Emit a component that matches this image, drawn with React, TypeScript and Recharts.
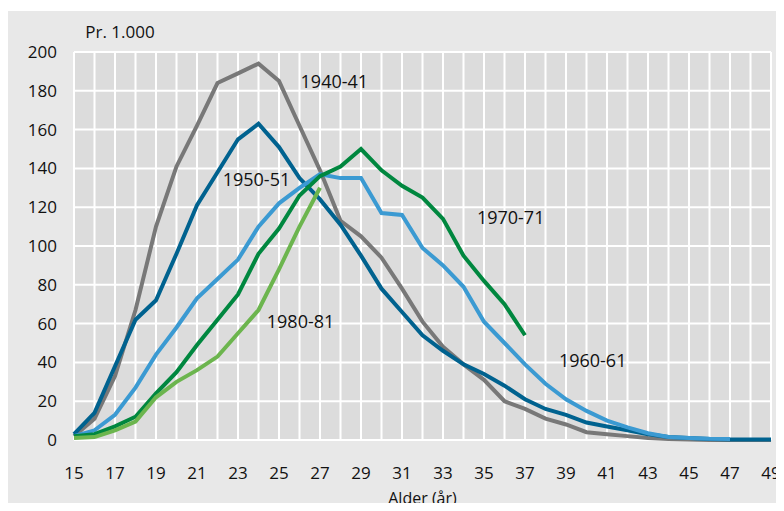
import React from "react";
import { CartesianGrid, Line, LineChart, ReferenceDot, XAxis, YAxis } from "recharts";

// alder 15-49
const ages = Array.from({ length: 35 }, (_, i) => 15 + i);

const y1940 = [2, 11, 33, 67, 110, 141, 162, 184, 189, 194, 185, 162, 139, 113, 105, 94, 78, 61, 48, 39, 31, 20, 16, 11, 8, 4, 3, 2, 1, 0.5, 0.3, 0, 0, 0, 0];
const y1950 = [3, 14, 38, 62, 72, 96, 121, 138, 155, 163, 151, 135, 124, 111, 95, 78, 66, 54, 46, 39, 34, 28, 21, 16, 13, 9, 7, 5, 3, 1.5, 1, 0.5, 0.3, 0.2, 0.2];
const y1960 = [2, 5, 13, 27, 44, 58, 73, 83, 93, 110, 122, 130, 137, 135, 135, 117, 116, 99, 90, 79, 61, 50, 39, 29, 21, 15, 10, 6.5, 3.5, 1.5, 1, 0.6, 0.5];
const y1970 = [2, 3, 7, 12, 24, 35, 49, 62, 75, 96, 109, 126, 136, 141, 150, 139, 131, 125, 114, 95, 82, 70, 54];
const y1980 = [1, 1.5, 5, 9.5, 22, 30, 36, 43, 55, 67, 88, 110, 130];

const yTicks = [0, 20, 40, 60, 80, 100, 120, 140, 160, 180, 200];

const seriesKeys = ["s1940", "s1950", "s1960", "s1970", "s1980"];
const seriesColors = ["#787878", "#00628f", "#3b9ad2", "#00873f", "#6cb54e"];

// tekster i diagrammet: [tekst, alder, verdi]
const curveLabels: [string, number, number][] = [
  ["1940-41", 27.7, 184.5],
  ["1950-51", 23.9, 134],
  ["1970-71", 36.3, 114.5],
  ["1980-81", 26.05, 61],
  ["1960-61", 40.3, 41],
];

const data = ages.map((age, i) => ({
  age,
  s1940: y1940[i],
  s1950: y1950[i],
  s1960: y1960[i],
  s1970: y1970[i],
  s1980: y1980[i],
}));

const FONT = "'Open Sans', sans-serif";

export default function App() {
  return (
    <div style={{ marginBottom: -8 }}>
      <LineChart
        width={776}
        height={503}
        data={data}
        style={{ background: "linear-gradient(to bottom, #ffffff 0px, #ffffff 3px, #e8e8e8 3px)" }}
        margin={{ top: 44, right: 13, bottom: 1, left: 6 }}
      >
        <CartesianGrid fill="#dcdcdc" stroke="#ffffff" strokeWidth={2} />
        <XAxis
          dataKey="age"
          type="number"
          domain={[15, 49]}
          ticks={ages}
          interval={0}
          height={70}
          tickFormatter={(v: number) => (v % 2 === 1 ? String(v) : "")}
          axisLine={false}
          tickLine={false}
          tickSize={0}
          tickMargin={27}
          tick={{ fill: "#111", fontSize: 17, fontFamily: FONT }}
          label={{ value: "Alder (år)", position: "insideBottom", offset: 6, fill: "#111", fontSize: 16, fontFamily: FONT }}
        />
        <YAxis
          type="number"
          domain={[0, 200]}
          ticks={yTicks}
          interval={0}
          width={60}
          axisLine={false}
          tickLine={false}
          tickSize={0}
          tickMargin={17}
          tick={{ fill: "#111", fontSize: 17, fontFamily: FONT }}
        />
        {seriesKeys.map((k, i) => (
          <Line
            key={k}
            dataKey={k}
            stroke={seriesColors[i]}
            strokeWidth={4}
            dot={false}
            activeDot={false}
            isAnimationActive={false}
          />
        ))}
        {curveLabels.map(([text, x, y]) => (
          <ReferenceDot
            key={text}
            x={x}
            y={y}
            r={0}
            fill="none"
            stroke="none"
            label={{ value: text, position: "center", fill: "#111", fontSize: 18, fontFamily: FONT }}
          />
        ))}
        <ReferenceDot
          x={17.24}
          y={210.3}
          r={0}
          fill="none"
          stroke="none"
          ifOverflow="visible"
          label={{ value: "Pr. 1.000", position: "center", fill: "#111", fontSize: 17, fontFamily: FONT }}
        />
      </LineChart>
    </div>
  );
}
